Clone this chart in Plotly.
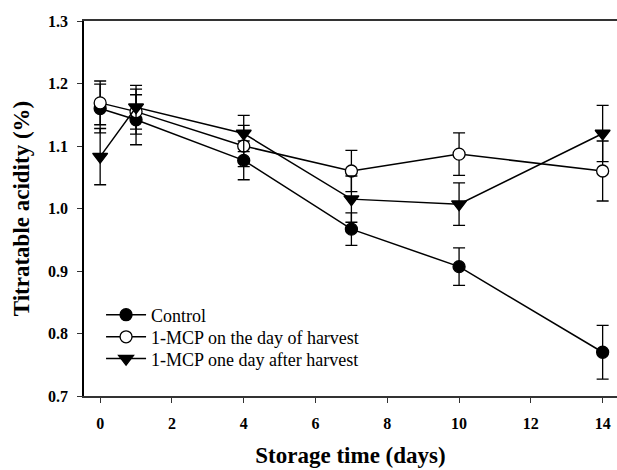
import plotly.graph_objects as go

days = [0, 1, 4, 7, 10, 14]

control = [1.160, 1.142, 1.077, 0.967, 0.907, 0.770]
control_err = [0.039, 0.040, 0.031, 0.026, 0.030, 0.043]

mcp_day = [1.169, 1.155, 1.100, 1.060, 1.087, 1.060]
mcp_day_err = [0.035, 0.036, 0.033, 0.033, 0.034, 0.048]

mcp_after = [1.083, 1.162, 1.120, 1.015, 1.007, 1.120]
mcp_after_err = [0.045, 0.035, 0.029, 0.037, 0.034, 0.045]

x_ticks = [0, 2, 4, 6, 8, 10, 12, 14]
y_ticks = [0.7, 0.8, 0.9, 1.0, 1.1, 1.2, 1.3]

FONT = "Liberation Serif, Times New Roman, Times, serif"

fig = go.Figure()

def add(name, y, err, symbol, fill, legend):
    fig.add_trace(go.Scatter(
        x=days, y=y, name=name, mode="lines+markers",
        line=dict(color="black", width=1.5),
        marker=dict(symbol=symbol, size=12 if symbol == "circle" else 13,
                    color=fill, line=dict(color="black", width=1.3)),
        error_y=dict(type="data", array=err, visible=True,
                     color="black", thickness=1.3, width=6),
        cliponaxis=False,
        legend=legend,
    ))

add("Control", control, control_err, "circle", "black", "legend")
add("1-MCP on the day of harvest", mcp_day, mcp_day_err, "circle", "white", "legend2")
add("1-MCP one day after harvest", mcp_after, mcp_after_err, "triangle-down", "black", "legend3")

def leg(yc):
    return dict(
        x=0.032, y=yc, xanchor="left", yanchor="middle",
        bgcolor="rgba(0,0,0,0)", borderwidth=0,
        font=dict(family=FONT, size=18, color="black"),
        itemwidth=40,
    )

fig.update_layout(
    width=617, height=470,
    margin=dict(l=84, r=0, t=21, b=74),
    paper_bgcolor="white", plot_bgcolor="white",
    font=dict(family=FONT, color="black"),
    showlegend=True,
    legend=leg(0.216),
    legend2=leg(0.157),
    legend3=leg(0.099),
    xaxis=dict(
        range=[-0.45, 14.4], tickvals=x_ticks,
        ticktext=[str(t) for t in x_ticks],
        ticks="outside", ticklen=5, tickwidth=1.3, tickcolor="#333",
        showline=True, linecolor="#333", linewidth=1.5, mirror=True,
        showgrid=False, zeroline=False,
        tickfont=dict(family=FONT, size=16, color="black", weight="bold"),
        ticklabelstandoff=7,
        title=dict(text="<b>Storage time (days)</b>", standoff=16,
                   font=dict(family=FONT, size=23, color="black")),
    ),
    yaxis=dict(
        range=[0.7, 1.3], tickvals=y_ticks,
        ticktext=[f"{t:.1f}" for t in y_ticks],
        ticks="outside", ticklen=5, tickwidth=1.3, tickcolor="#333",
        showline=True, linecolor="black", linewidth=1.5, mirror=False,
        showgrid=False, zeroline=False,
        tickfont=dict(family=FONT, size=16, color="black", weight="bold"),
        ticklabelstandoff=6,
        title=dict(text="<b>Titratable acidity (%)</b>", standoff=12,
                   font=dict(family=FONT, size=23, color="black")),
    ),
)

fig.write_html(
    "out.html",
    config={"displayModeBar": False},
    post_script="document.body.style.margin='0';document.body.style.overflow='hidden';",
)
